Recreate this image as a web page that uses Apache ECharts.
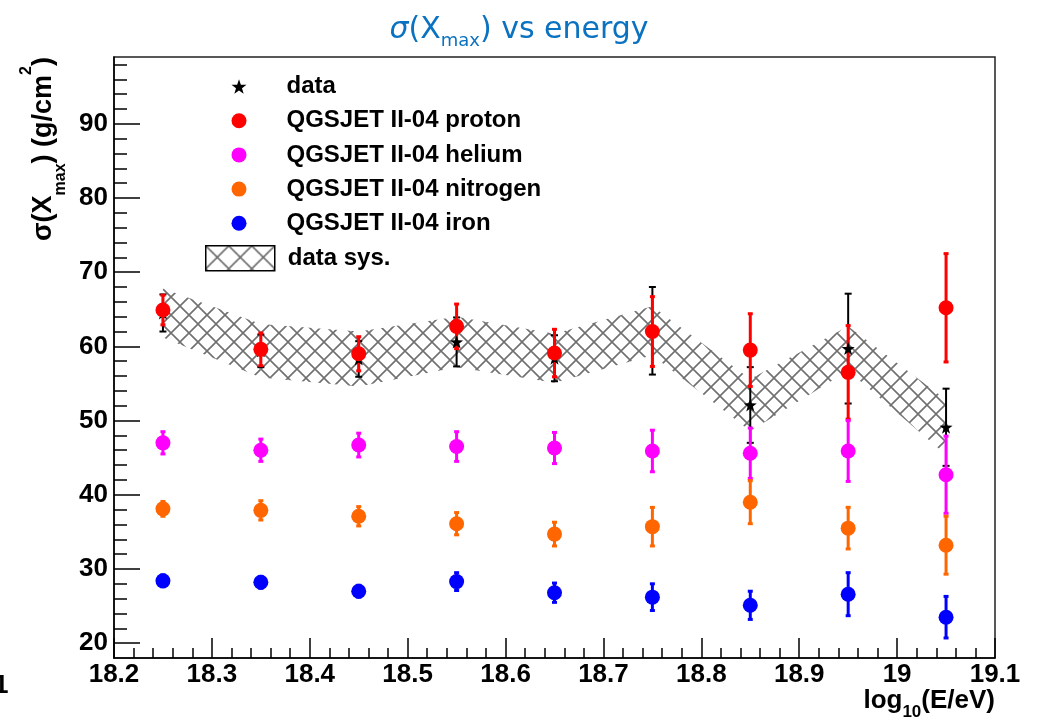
<!DOCTYPE html>
<html>
<head>
<meta charset="utf-8">
<title>sigma(Xmax) vs energy</title>
<script src="https://cdn.jsdelivr.net/npm/echarts@6/dist/echarts.min.js"></script>
<style>
  html, body { margin: 0; padding: 0; background: #fff; }
  #chart { width: 1038px; height: 723px; }
</style>
</head>
<body>
<div id="chart"></div>
<script>
// energy bins, log10(E/eV)
const energyBins = [18.25, 18.35, 18.45, 18.55, 18.65, 18.75, 18.85, 18.95, 19.05];

// measured sigma(Xmax) with stat. errors and sys. band half-width
const dataVals = [64.5, 59.4, 58.3, 60.6, 58.4, 62.1, 52.1, 59.7, 49.1];
const dataStat = [2.5, 2.2, 2.4, 3.3, 3.1, 5.9, 5.1, 7.4, 5.2];
const dataSys = [3.3, 3.6, 3.7, 3.4, 3.3, 3.3, 3.5, 3.0, 3.7];

// QGSJET II-04 predictions
const protonVals = [64.9, 59.6, 59.0, 62.7, 59.1, 62.0, 59.5, 56.5, 65.2];
const protonErr = [2.0, 2.2, 2.3, 3.0, 3.2, 4.7, 4.9, 6.3, 7.3];
const heliumVals = [47.0, 46.0, 46.7, 46.5, 46.3, 45.9, 45.6, 45.9, 42.7];
const heliumErr = [1.5, 1.5, 1.6, 2.0, 2.1, 2.8, 3.4, 4.1, 5.2];
const nitrogenVals = [38.1, 37.9, 37.1, 36.1, 34.7, 35.7, 39.0, 35.5, 33.2];
const nitrogenErr = [1.0, 1.3, 1.3, 1.5, 1.6, 2.6, 2.9, 2.8, 3.9];
const ironVals = [28.4, 28.2, 27.0, 28.3, 26.8, 26.2, 25.1, 26.6, 23.5];
const ironErr = [0.8, 0.8, 0.8, 1.2, 1.3, 1.8, 1.9, 2.9, 2.8];

// axis ticks
const yMajorTicks = [20, 30, 40, 50, 60, 70, 80, 90];
const yMinorTicks = [20, 22, 24, 26, 28, 30, 32, 34, 36, 38, 40, 42, 44, 46, 48, 50, 52, 54, 56, 58,
  60, 62, 64, 66, 68, 70, 72, 74, 76, 78, 80, 82, 84, 86, 88, 90, 92, 94, 96, 98];

const FONT = '"Liberation Sans", Arial, Helvetica, sans-serif';
const TITLE_BLUE = '#0a72c0';
const STAR = 'path://M0,-10L2.35,-3.24L9.51,-3.09L3.8,1.24L5.88,8.09L0,4L-5.88,8.09L-3.8,1.24L-9.51,-3.09L-2.35,-3.24Z';

// cross hatch pattern for the systematic band
function makeHatch(size, color, width) {
  const c = document.createElement('canvas');
  c.width = size;
  c.height = size;
  const ctx = c.getContext('2d');
  ctx.strokeStyle = color;
  ctx.lineWidth = width;
  for (let dx = -size; dx <= size; dx += size) {
    ctx.beginPath();
    ctx.moveTo(dx, 0);
    ctx.lineTo(dx + size, size);
    ctx.moveTo(dx + size, 0);
    ctx.lineTo(dx, size);
    ctx.stroke();
  }
  return { image: c, repeat: 'repeat' };
}
const hatch = makeHatch(18, '#707070', 1.6);
const hatchLegend = makeHatch(23, '#707070', 1.6);

function errorBars(name, vals, errs, color, width, cap) {
  return {
    type: 'custom',
    name: name,
    silent: true,
    data: energyBins.map((x, i) => [x, vals[i] - errs[i], vals[i] + errs[i]]),
    encode: { x: 0, y: [1, 2] },
    renderItem: (params, api) => {
      const top = api.coord([api.value(0), api.value(2)]);
      const bot = api.coord([api.value(0), api.value(1)]);
      const style = { stroke: color, lineWidth: width };
      return {
        type: 'group',
        children: [
          { type: 'line', shape: { x1: top[0], y1: top[1], x2: bot[0], y2: bot[1] }, style },
          { type: 'line', shape: { x1: top[0] - cap, y1: top[1], x2: top[0] + cap, y2: top[1] }, style },
          { type: 'line', shape: { x1: bot[0] - cap, y1: bot[1], x2: bot[0] + cap, y2: bot[1] }, style }
        ]
      };
    }
  };
}

function points(name, vals, color, symbol, size) {
  return {
    type: 'scatter',
    name: name,
    symbol: symbol,
    symbolSize: size,
    itemStyle: { color: color, opacity: 1 },
    data: energyBins.map((x, i) => [x, vals[i]])
  };
}

const chart = echarts.init(document.getElementById('chart'));

const option = {
  animation: false,
  backgroundColor: '#fff',
  title: {
    text: '{g|σ}{a|(X}{s|max}{a|) vs energy}',
    left: 'center',
    top: 5,
    textStyle: {
      fontWeight: 'normal',
      rich: {
        g: { fontFamily: '"DejaVu Sans"', fontStyle: 'italic', fontWeight: 'normal', fontSize: 30, color: TITLE_BLUE, lineHeight: 40 },
        a: { fontFamily: '"DejaVu Sans"', fontWeight: 'normal', fontSize: 30, color: TITLE_BLUE, lineHeight: 40 },
        s: { fontFamily: '"DejaVu Sans"', fontWeight: 'normal', fontSize: 18, color: TITLE_BLUE, verticalAlign: 'bottom', lineHeight: 19 }
      }
    }
  },
  grid: {
    left: 114,
    right: 43,
    top: 57,
    bottom: 65,
    show: true,
    borderColor: '#222',
    borderWidth: 1.5,
    outerBoundsMode: 'none'
  },
  legend: [
    {
      orient: 'vertical',
      left: 231.5,
      top: 73.5,
      padding: 0,
      itemWidth: 15,
      itemHeight: 15,
      itemGap: 8.2,
      selectedMode: false,
      textStyle: { fontFamily: FONT, fontWeight: 'bold', fontSize: 24, color: '#000', lineHeight: 26, padding: [0, 0, 0, 35] },
      data: [
        { name: 'data', icon: STAR },
        { name: 'QGSJET II-04 proton', icon: 'circle' },
        { name: 'QGSJET II-04 helium', icon: 'circle' },
        { name: 'QGSJET II-04 nitrogen', icon: 'circle' },
        { name: 'QGSJET II-04 iron', icon: 'circle' }
      ]
    },
    {
      left: 205,
      top: 245,
      padding: 0,
      itemWidth: 69,
      itemHeight: 25,
      selectedMode: false,
      textStyle: { fontFamily: FONT, fontWeight: 'bold', fontSize: 24, color: '#000', lineHeight: 26, padding: [0, 0, 0, 8] },
      data: [
        { name: 'data sys.', icon: 'rect', itemStyle: { color: hatchLegend, borderColor: '#000', borderWidth: 1.5 } }
      ]
    }
  ],
  xAxis: {
    type: 'value',
    min: 18.2,
    max: 19.1,
    interval: 0.1,
    axisLine: { lineStyle: { color: '#000', width: 1.5 } },
    axisTick: { inside: true, length: 20, lineStyle: { color: '#000', width: 1.5 } },
    minorTick: { show: true, splitNumber: 5, length: 10, lineStyle: { color: '#000', width: 1.5 } },
    splitLine: { show: false },
    axisLabel: { fontFamily: FONT, fontWeight: 'bold', fontSize: 26, color: '#000', margin: 4 }
  },
  yAxis: [
    {
      type: 'value',
      min: 18,
      max: 99,
      position: 'left',
      axisLine: { show: true, lineStyle: { color: '#000', width: 1.5 } },
      axisTick: { inside: true, length: 26, customValues: yMajorTicks, lineStyle: { color: '#000', width: 1.5 } },
      splitLine: { show: false },
      axisLabel: { customValues: yMajorTicks, fontFamily: FONT, fontWeight: 'bold', fontSize: 26, color: '#000', margin: 6 }
    },
    {
      type: 'value',
      min: 18,
      max: 99,
      position: 'left',
      offset: 0,
      axisLine: { show: false },
      axisTick: { inside: true, length: 13, customValues: yMinorTicks, lineStyle: { color: '#000', width: 1.5 } },
      splitLine: { show: false },
      axisLabel: { show: false }
    }
  ],
  graphic: [
    {
      type: 'text',
      x: 44,
      y: 57,
      rotation: Math.PI / 2,
      style: {
        text: '{m|σ(X}{sub|max}{m|) (g/cm}{sup|2}{m|)}',
        align: 'right',
        verticalAlign: 'middle',
        fill: '#000',
        rich: {
          m: { fontFamily: FONT, fontWeight: 'bold', fontSize: 27, lineHeight: 50, fill: '#000' },
          sub: { fontFamily: FONT, fontWeight: 'bold', fontSize: 16, lineHeight: 26, verticalAlign: 'bottom', fill: '#000' },
          sup: { fontFamily: FONT, fontWeight: 'bold', fontSize: 16, lineHeight: 18, verticalAlign: 'top', fill: '#000' }
        }
      }
    },
    {
      type: 'text',
      x: 995,
      y: 701,
      style: {
        text: '{m|log}{sub|10}{m|(E/eV)}',
        align: 'right',
        verticalAlign: 'middle',
        fill: '#000',
        rich: {
          m: { fontFamily: FONT, fontWeight: 'bold', fontSize: 26, lineHeight: 40, fill: '#000' },
          sub: { fontFamily: FONT, fontWeight: 'bold', fontSize: 17, lineHeight: 17, verticalAlign: 'bottom', fill: '#000' }
        }
      }
    },
    {
      type: 'text',
      x: -6,
      y: 673,
      style: { text: '1', fontFamily: FONT, fontWeight: 'bold', fontSize: 26, fill: '#000' }
    }
  ],
  series: [
    {
      type: 'custom',
      name: 'data sys.',
      silent: true,
      itemStyle: { color: hatch },
      data: energyBins.slice(0, -1).map((x, i) => [
        x, dataVals[i] + dataSys[i], dataVals[i] - dataSys[i],
        energyBins[i + 1], dataVals[i + 1] + dataSys[i + 1], dataVals[i + 1] - dataSys[i + 1]
      ]),
      encode: { x: [0, 3], y: [1, 2, 4, 5] },
      renderItem: (params, api) => {
        const p = [
          api.coord([api.value(0), api.value(1)]),
          api.coord([api.value(3), api.value(4)]),
          api.coord([api.value(3), api.value(5)]),
          api.coord([api.value(0), api.value(2)])
        ];
        return { type: 'polygon', shape: { points: p }, style: { fill: hatch } };
      }
    },
    errorBars('data err', dataVals, dataStat, '#000', 2, 3.5),
    points('data', dataVals, '#000', STAR, 13),
    errorBars('proton err', protonVals, protonErr, '#ff0000', 3, 2.5),
    points('QGSJET II-04 proton', protonVals, '#ff0000', 'circle', 15),
    errorBars('helium err', heliumVals, heliumErr, '#ff00ff', 3, 2.5),
    points('QGSJET II-04 helium', heliumVals, '#ff00ff', 'circle', 15),
    errorBars('nitrogen err', nitrogenVals, nitrogenErr, '#ff6600', 3, 2.5),
    points('QGSJET II-04 nitrogen', nitrogenVals, '#ff6600', 'circle', 15),
    errorBars('iron err', ironVals, ironErr, '#0000ff', 3, 2.5),
    points('QGSJET II-04 iron', ironVals, '#0000ff', 'circle', 15)
  ]
};

chart.setOption(option);
window.addEventListener('resize', () => chart.resize());
</script>
</body>
</html>
